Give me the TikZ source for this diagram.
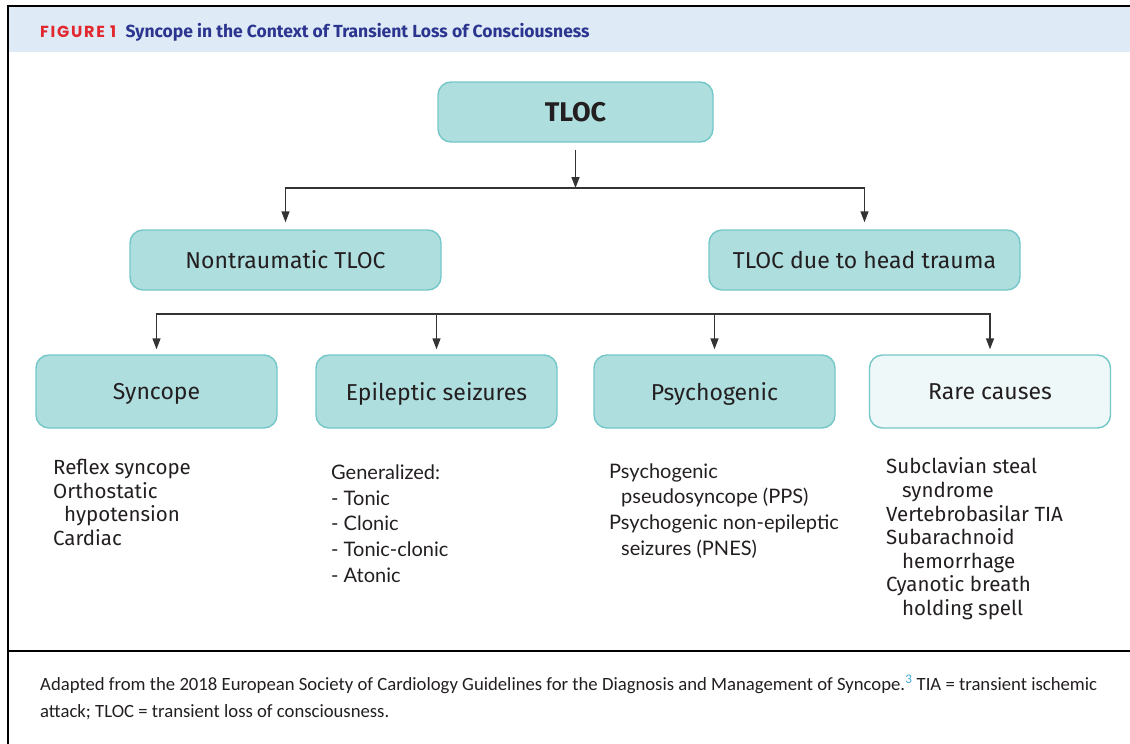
\documentclass[tikz,border=0pt]{standalone}
\usepackage{fontspec}
\setmainfont{Fira Sans}
\newfontfamily\listfont{Lato}
\newfontfamily\capfont{Carlito}
\newfontfamily\figfont{Poppins}
\usetikzlibrary{positioning,arrows.meta}
\definecolor{boxfill}{HTML}{AFDEDF}
\definecolor{boxline}{HTML}{74C7C8}
\definecolor{rarefill}{HTML}{EEF8F8}
\definecolor{headband}{HTML}{DEEAF6}
\definecolor{figred}{HTML}{E2272E}
\definecolor{figblue}{HTML}{2B3590}
\definecolor{ink}{HTML}{231F20}
\definecolor{linkgray}{HTML}{333333}
\definecolor{supblue}{HTML}{3FA9DA}

\begin{document}
\begin{tikzpicture}[
  x=1pt, y=-1pt,
  every node/.style={text=ink, inner sep=0pt},
  box/.style={draw=boxline, fill=boxfill, line width=1.4pt, rounded corners=13pt, text depth=0pt, font=\fontsize{23}{26}\selectfont},
  toprow/.style={box, minimum width=275pt, minimum height=60pt},
  midrow/.style={box, minimum width=311pt, minimum height=60pt},
  lowrow/.style={box, minimum width=241pt, minimum height=73pt},
  arr/.style={draw=linkgray, line width=1.4pt, -{Triangle[width=8pt,length=11pt]}},
  items/.style={align=left, anchor=base west, font=\fontsize{20.5}{23.6}\selectfont},
  gsitems/.style={align=left, anchor=base west, font=\listfont\fontsize{20}{25.8}\selectfont}
]
\useasboundingbox (0,0) rectangle (1130,744);

% frame and header
\fill[headband] (8,6) rectangle (1130,52);
\draw[line width=2pt] (8,744) -- (8,6) -- (1130,6);
\draw[line width=1.5pt] (8,651) -- (1130,651);
\node[anchor=base west, text=figred, font=\figfont\bfseries\fontsize{16}{18}\selectfont\addfontfeature{LetterSpace=11}] (figlab) at (40,37) {FIGURE 1};
\node[right=9pt of figlab.base east, anchor=base west, text=figblue, font=\bfseries\fontsize{17.5}{19}\selectfont] (figtitle) {Syncope in the Context of Transient Loss of Consciousness};

% boxes
\node[toprow, font=\bfseries\fontsize{27}{28}\selectfont] (tloc) at (575.5,112) {TLOC};
\node[midrow] (nontr) at (285.5,260) {Nontraumatic TLOC};
\node[midrow] (trauma) at (864.5,260) {TLOC due to head trauma};
\node[lowrow] (sync) at (156.5,391.5) {Syncope};
\node[lowrow] (epi) at (436.5,391.5) {Epileptic seizures};
\node[lowrow] (psy) at (714.5,391.5) {Psychogenic};
\node[lowrow, fill=rarefill] (rare) at (990,391.5) {Rare causes};

% connectors
\coordinate (split1) at (575.5,188);
\coordinate (split2) at (573,314);
\draw[arr, shorten <=7pt] (tloc) -- (split1);
\draw[arr, shorten >=7pt] (split1) -| (nontr);
\draw[arr, shorten >=7pt] (split1) -| (trauma);
\foreach \n in {sync,epi,psy,rare}
  \draw[arr, shorten >=5pt] (split2) -| (\n);

% lists (base = last line)
\node[items] (synclist) at (53,545.5) {Reflex syncope\\Orthostatic\\\hspace*{11pt}hypotension\\Cardiac};
\node[gsitems] (epilist) at (331,582.5) {Generalized:\\- Tonic\\- Clonic\\- Tonic-clonic\\- Atonic};
\node[gsitems] (psylist) at (609,555.5) {Psychogenic\\\hspace*{12pt}pseudosyncope (PPS)\\Psychogenic non-epileptic\\\hspace*{12pt}seizures (PNES)};
\node[items] (rarelist) at (886,615.5) {Subclavian steal\\\hspace*{16pt}syndrome\\Vertebrobasilar TIA\\Subarachnoid\\\hspace*{16pt}hemorrhage\\Cyanotic breath\\\hspace*{16pt}holding spell};

% caption
\node[anchor=base west, align=left, font=\capfont\fontsize{18.7}{27}\selectfont] (caption) at (40,717) {Adapted from the 2018 European Society of Cardiology Guidelines for the Diagnosis and Management of Syncope.\textsuperscript{\color{supblue}3} TIA = transient ischemic\\attack; TLOC = transient loss of consciousness.};
\end{tikzpicture}
\end{document}
